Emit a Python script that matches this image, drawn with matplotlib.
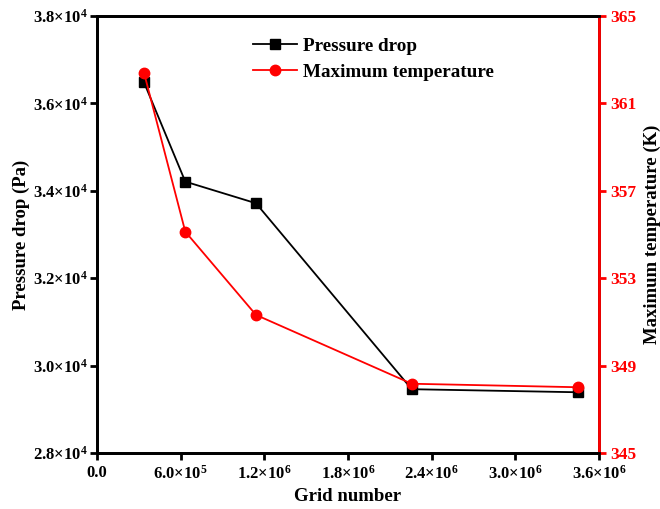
import matplotlib
matplotlib.use("Agg")
import matplotlib.pyplot as plt
from matplotlib.ticker import FixedLocator, FixedFormatter

plt.rcParams['font.family'] = ['Liberation Serif', 'DejaVu Serif']
plt.rcParams['font.weight'] = 'bold'
plt.rcParams['mathtext.fontset'] = 'custom'
plt.rcParams['mathtext.rm'] = 'Liberation Serif:bold'
plt.rcParams['mathtext.bf'] = 'Liberation Serif:bold'
plt.rcParams['mathtext.it'] = 'Liberation Serif:italic:bold'

grid_number = [3.37e5, 6.33e5, 1.14e6, 2.257e6, 3.45e6]
pressure_drop = [36480, 34210, 33715, 29460, 29390]
max_temperature = [362.4, 355.13, 351.32, 348.17, 348.01]

x_ticks = [0, 6e5, 1.2e6, 1.8e6, 2.4e6, 3.0e6, 3.6e6]
x_ticklabels = ['0.0', '6.0×10$^{5}$', '1.2×10$^{6}$', '1.8×10$^{6}$',
                '2.4×10$^{6}$', '3.0×10$^{6}$', '3.6×10$^{6}$']
y1_ticks = [28000, 30000, 32000, 34000, 36000, 38000]
y1_ticklabels = ['2.8×10$^{4}$', '3.0×10$^{4}$', '3.2×10$^{4}$',
                 '3.4×10$^{4}$', '3.6×10$^{4}$', '3.8×10$^{4}$']
y2_ticks = [345, 349, 353, 357, 361, 365]

fig = plt.figure(figsize=(6.6, 5.09), dpi=100)
ax1 = fig.add_axes([0.147, 0.110, 0.7606, 0.8586])
ax2 = ax1.twinx()

l1, = ax1.plot(grid_number, pressure_drop, color='black', lw=1.3,
               marker='s', markersize=7, label='Pressure drop')
l2, = ax2.plot(grid_number, max_temperature, color='red', lw=1.3,
               marker='o', markersize=7.5, label='Maximum temperature')

ax1.set_xlim(0, 3.6e6)
ax1.set_ylim(28000, 38000)
ax2.set_ylim(345, 365)

ax1.xaxis.set_major_locator(FixedLocator(x_ticks))
ax1.xaxis.set_major_formatter(FixedFormatter(x_ticklabels))
ax1.yaxis.set_major_locator(FixedLocator(y1_ticks))
ax1.yaxis.set_major_formatter(FixedFormatter(y1_ticklabels))
ax2.yaxis.set_major_locator(FixedLocator(y2_ticks))

for sp in ax1.spines.values():
    sp.set_linewidth(2)
for sp in ax2.spines.values():
    sp.set_linewidth(2)
ax2.spines['right'].set_color('red')

ax1.tick_params(axis='both', direction='out', length=5, width=2,
                labelsize=12, colors='black')
ax1.tick_params(axis='y', pad=2)
ax2.tick_params(axis='y', direction='out', length=5, width=2,
                labelsize=12.5, colors='red', pad=3)
for lab in ax1.get_xticklabels() + ax1.get_yticklabels() + ax2.get_yticklabels():
    lab.set_fontweight('bold')

ax1.set_xlabel('Grid number', fontsize=13.5, fontweight='bold', labelpad=4)
ax1.set_ylabel('Pressure drop (Pa)', fontsize=13.5, fontweight='bold', labelpad=2)
ax2.set_ylabel('Maximum temperature (K)', fontsize=13.5, fontweight='bold', labelpad=5)

ax2.legend([l1, l2], ['Pressure drop', 'Maximum temperature'],
           loc='upper left', bbox_to_anchor=(0.276, 0.99), frameon=False,
           prop={'family': 'Liberation Serif', 'weight': 'bold', 'size': 13.8},
           handlelength=2.3, labelspacing=0.45, handletextpad=0.3)

fig.savefig('out.png', dpi=100)
